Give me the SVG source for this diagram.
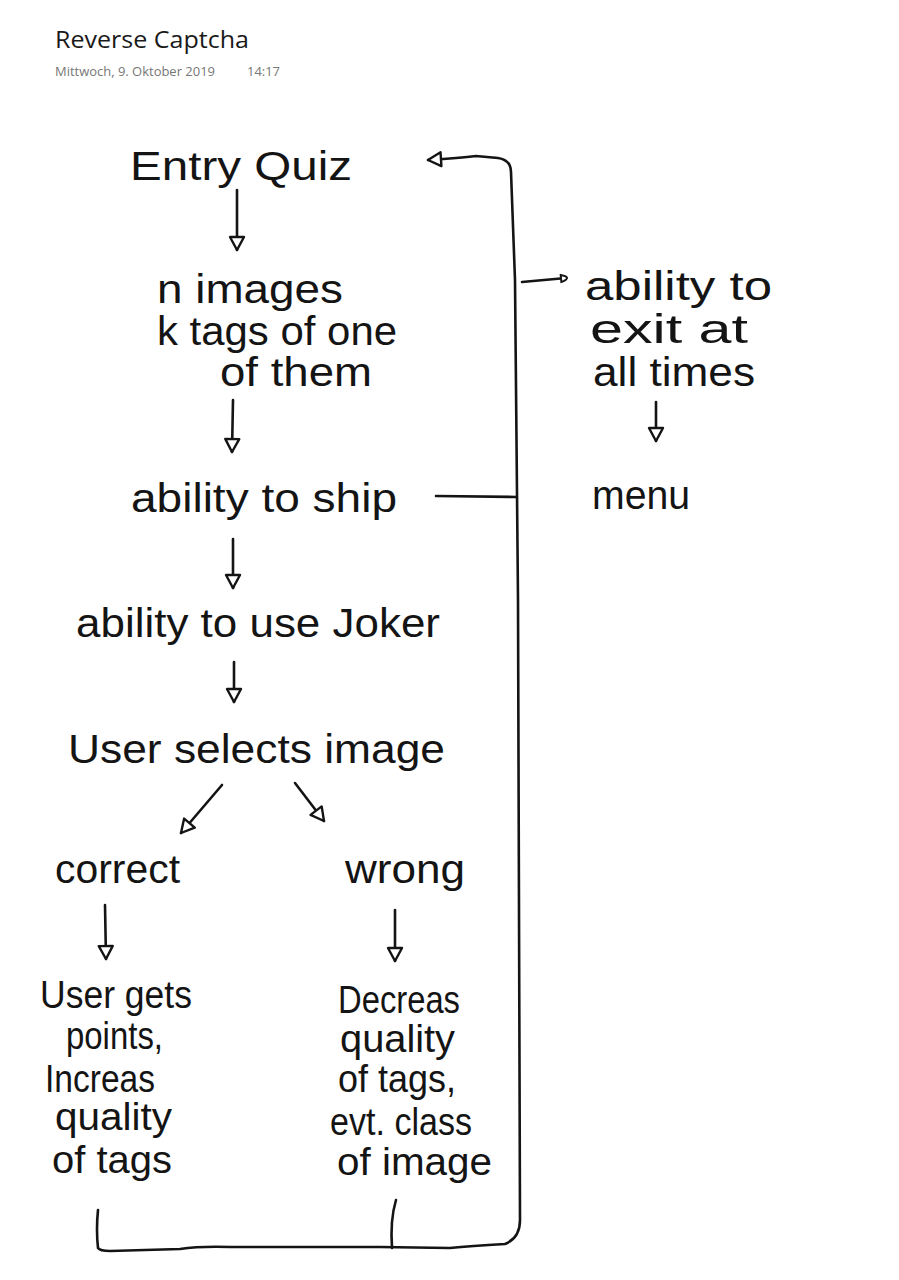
<svg xmlns="http://www.w3.org/2000/svg" width="899" height="1280" viewBox="0 0 899 1280">
<style>
.t{font-family:"Liberation Sans",Arial,sans-serif;font-size:40px;fill:#141414;}
.s{font-size:38px;}
.c{fill:none;stroke:#141414;stroke-width:2.6;stroke-linecap:round;stroke-linejoin:round;}
.h1{font-family:"Open Sans","Liberation Sans",sans-serif;font-size:23px;fill:#1a1a1a;}
.h2{font-family:"Open Sans","Liberation Sans",sans-serif;font-size:12.5px;fill:#777;}
</style>
<defs>
<marker id="a" viewBox="0 0 18 18" refX="15" refY="9" markerWidth="18" markerHeight="18" markerUnits="userSpaceOnUse" orient="auto">
<path d="M2,2 L15,9 L2,16 Z" fill="#fff" stroke="#141414" stroke-width="2.4" stroke-linejoin="round"/>
</marker>
<marker id="b" viewBox="0 0 10 10" refX="7" refY="5" markerWidth="10" markerHeight="10" markerUnits="userSpaceOnUse" orient="auto">
<path d="M2,1.5 Q8,3 8,5 Q8,7 2,8.5 Z" fill="#fff" stroke="#141414" stroke-width="2"/>
</marker>
</defs>
<rect width="899" height="1280" fill="#fff"/>
<g id="header">
<text class="h1" x="55" y="48" textLength="194" lengthAdjust="spacingAndGlyphs">Reverse Captcha</text>
<text class="h2" x="55" y="76" textLength="160" lengthAdjust="spacingAndGlyphs">Mittwoch, 9. Oktober 2019</text>
<text class="h2" x="247" y="76" textLength="33" lengthAdjust="spacingAndGlyphs">14:17</text>
</g>
<g id="entry-quiz"><text class="t" x="130" y="180" textLength="222" lengthAdjust="spacingAndGlyphs">Entry Quiz</text></g>
<g id="images-tags">
<text class="t" x="157" y="303" textLength="186" lengthAdjust="spacingAndGlyphs">n images</text>
<text class="t" x="157" y="345" textLength="240" lengthAdjust="spacingAndGlyphs">k tags of one</text>
<text class="t" x="220" y="386" textLength="152" lengthAdjust="spacingAndGlyphs">of them</text>
</g>
<g id="skip"><text class="t" x="131" y="512" textLength="266" lengthAdjust="spacingAndGlyphs">ability to ship</text></g>
<g id="joker"><text class="t" x="76" y="637" textLength="364" lengthAdjust="spacingAndGlyphs">ability to use Joker</text></g>
<g id="select"><text class="t" x="68" y="763" textLength="377" lengthAdjust="spacingAndGlyphs">User selects image</text></g>
<g id="correct"><text class="t" x="55" y="883" textLength="125" lengthAdjust="spacingAndGlyphs">correct</text></g>
<g id="wrong"><text class="t" x="345" y="883" textLength="120" lengthAdjust="spacingAndGlyphs">wrong</text></g>
<g id="correct-result">
<text class="t s" x="40" y="1008" textLength="152" lengthAdjust="spacingAndGlyphs">User gets</text>
<text class="t s" x="66" y="1049" textLength="97" lengthAdjust="spacingAndGlyphs">points,</text>
<text class="t s" x="45" y="1092" textLength="110" lengthAdjust="spacingAndGlyphs">Increas</text>
<text class="t s" x="55" y="1130" textLength="117" lengthAdjust="spacingAndGlyphs">quality</text>
<text class="t s" x="52" y="1173" textLength="120" lengthAdjust="spacingAndGlyphs">of tags</text>
</g>
<g id="wrong-result">
<text class="t s" x="338" y="1013" textLength="122" lengthAdjust="spacingAndGlyphs">Decreas</text>
<text class="t s" x="340" y="1052" textLength="115" lengthAdjust="spacingAndGlyphs">quality</text>
<text class="t s" x="338" y="1092" textLength="118" lengthAdjust="spacingAndGlyphs">of tags,</text>
<text class="t s" x="330" y="1135" textLength="142" lengthAdjust="spacingAndGlyphs">evt. class</text>
<text class="t s" x="337" y="1175" textLength="155" lengthAdjust="spacingAndGlyphs">of image</text>
</g>
<g id="exit">
<text class="t" x="585" y="300" textLength="187" lengthAdjust="spacingAndGlyphs">ability to</text>
<text class="t" x="590" y="343" textLength="158" lengthAdjust="spacingAndGlyphs">exit at</text>
<text class="t" x="593" y="386" textLength="162" lengthAdjust="spacingAndGlyphs">all times</text>
</g>
<g id="menu"><text class="t" x="592" y="509" textLength="98" lengthAdjust="spacingAndGlyphs">menu</text></g>
<g id="connectors">
<path class="c" d="M237,190 L237,250" marker-end="url(#a)"/>
<path class="c" d="M233,400 L232,452" marker-end="url(#a)"/>
<path class="c" d="M233,539 L233,588" marker-end="url(#a)"/>
<path class="c" d="M234,662 L234,702" marker-end="url(#a)"/>
<path class="c" d="M222,785 L181,833" marker-end="url(#a)"/>
<path class="c" d="M295,783 L324,821" marker-end="url(#a)"/>
<path class="c" d="M105,905 L106,959" marker-end="url(#a)"/>
<path class="c" d="M395,910 L395,961" marker-end="url(#a)"/>
<path class="c" d="M656,402 L656,441" marker-end="url(#a)"/>
<path class="c" d="M98,1210 Q96,1230 98,1248 Q100,1251 110,1251 L180,1249 Q200,1246 230,1247 L380,1247 L450,1248 Q470,1246 505,1244 Q520,1238 520,1220 L518,600 L515,280 L511,172 Q511,160 498,158 L476,156 Q460,158 428,160" marker-end="url(#a)"/>
<path class="c" d="M396,1200 Q390,1220 392,1248"/>
<path class="c" d="M436,496 L516,497"/>
<path class="c" d="M522,282 L566,278" marker-end="url(#b)"/>
</g>
</svg>
